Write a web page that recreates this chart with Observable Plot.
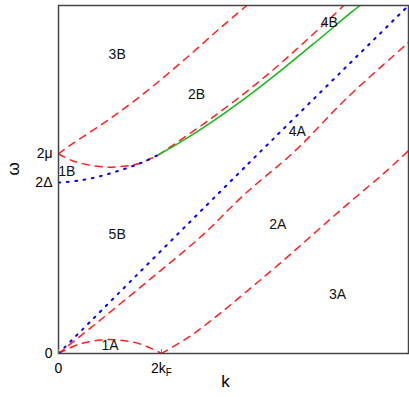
<!DOCTYPE html>
<html>
<head>
<meta charset="utf-8">
<script src="https://cdn.jsdelivr.net/npm/d3@7"></script>
<script src="https://cdn.jsdelivr.net/npm/@observablehq/plot@0.6"></script>
<style>
  html, body { margin: 0; padding: 0; background: #fff; }
</style>
</head>
<body>
<div id="chart"></div>
<script>
// ---- tick values / labels ----
const kTicks = [0, 1];
const kTickLabels = ["0", "2kF"];
const wTicks = [0, 1.66, 1.94];
const wTickLabels = ["0", "2\u0394", "2\u03bc"];

// ---- curves (k in units of 2kF, omega in the same plot units) ----
// red dashed arc between 0 and 2kF (bounds region 1A)
const arc1A_k = [0, 0.1, 0.2, 0.3, 0.4, 0.5, 0.6, 0.7, 0.8, 0.9, 1.0];
const arc1A_w = [0, 0.05, 0.09, 0.115, 0.13, 0.136, 0.13, 0.115, 0.09, 0.05, 0];
// red dashed line starting at origin
const redOrigin_k = [0, 0.4, 0.9, 1.4, 1.8, 2.3, 2.8, 3.4];
const redOrigin_w = [0, 0.32, 0.73, 1.15, 1.54, 1.97, 2.48, 3.02];
// red dashed line starting at 2kF
const red2kF_k = [1, 1.28, 1.57, 1.86, 2.18, 2.51, 2.83, 3.16, 3.4];
const red2kF_w = [0, 0.17, 0.39, 0.63, 0.9, 1.19, 1.47, 1.75, 1.97];
// red dashed: lower branch from 2mu, continuing above the green line
const redMuLow_k = [0, 0.14, 0.36, 0.5, 0.65, 0.8, 0.89, 0.97, 1.18, 1.52, 1.86, 2.16, 2.45, 2.74, 2.77];
const redMuLow_w = [1.94, 1.87, 1.82, 1.81, 1.82, 1.85, 1.89, 1.93, 2.07, 2.31, 2.57, 2.82, 3.08, 3.35, 3.38];
// red dashed: upper branch from 2mu
const redMuUp_k = [0, 0.14, 0.5, 0.86, 1.23, 1.57, 1.83];
const redMuUp_w = [1.94, 2.04, 2.28, 2.55, 2.86, 3.16, 3.38];
// blue dotted: straight line from origin
const blueOrigin_k = [0, 1.83, 3.4];
const blueOrigin_w = [0, 1.83, 3.38];
// blue dotted: from 2Delta
const blueDelta_k = [0, 0.2, 0.4, 0.6, 0.8, 0.97];
const blueDelta_w = [1.66, 1.68, 1.72, 1.78, 1.85, 1.93];
// green solid
const green_k = [0.97, 1.18, 1.52, 1.86, 2.18, 2.51, 2.84, 2.93];
const green_w = [1.93, 2.05, 2.27, 2.515, 2.765, 3.035, 3.31, 3.38];

// ---- region labels ----
const regionNames = ["3B", "2B", "4B", "1B", "4A", "5B", "2A", "3A", "1A"];
const regionK = [0.57, 1.34, 2.63, 0.08, 2.32, 0.57, 2.13, 2.71, 0.5];
const regionW = [2.9, 2.52, 3.21, 1.77, 2.16, 1.16, 1.25, 0.57, 0.08];

const curves = [
  {id: "arc1A", kind: "red", k: arc1A_k, w: arc1A_w},
  {id: "redOrigin", kind: "red", k: redOrigin_k, w: redOrigin_w},
  {id: "red2kF", kind: "red", k: red2kF_k, w: red2kF_w},
  {id: "redMuLow", kind: "red", k: redMuLow_k, w: redMuLow_w},
  {id: "redMuUp", kind: "red", k: redMuUp_k, w: redMuUp_w},
  {id: "blueOrigin", kind: "blue", k: blueOrigin_k, w: blueOrigin_w},
  {id: "blueDelta", kind: "blue", k: blueDelta_k, w: blueDelta_w},
  {id: "green", kind: "green", k: green_k, w: green_w}
];
const rows = curves.flatMap(c => c.k.map((k, i) => ({k, w: c.w[i], id: c.id, kind: c.kind})));
const regions = regionNames.map((name, i) => ({name, k: regionK[i], w: regionW[i]}));

const font = "'Liberation Sans', Arial, Helvetica, sans-serif";

const chart = Plot.plot({
  width: 409,
  height: 397,
  marginLeft: 58,
  marginRight: 1,
  marginTop: 5,
  marginBottom: 44,
  style: {fontFamily: font, fontSize: "14px", color: "#000", background: "#fff"},
  x: {domain: [0, 3.4]},
  y: {domain: [0, 3.38]},
  marks: [
    Plot.line(rows.filter(d => d.kind === "red"), {
      x: "k", y: "w", z: "id", stroke: "#ff1f1f", strokeWidth: 1.5,
      strokeDasharray: "7,6", curve: "catmull-rom", clip: true
    }),
    Plot.line(rows.filter(d => d.kind === "blue"), {
      x: "k", y: "w", z: "id", stroke: "#0000ff", strokeWidth: 2,
      strokeDasharray: "1.8,6.6", curve: "catmull-rom", clip: true
    }),
    Plot.line(rows.filter(d => d.kind === "green"), {
      x: "k", y: "w", z: "id", stroke: "#12b812", strokeWidth: 1.5,
      curve: "catmull-rom", clip: true
    }),
    Plot.text(regions, {x: "k", y: "w", text: "name", fontSize: 14, fill: "#111"}),
    Plot.frame({stroke: "#444", strokeWidth: 1.5}),
    Plot.axisX(kTicks, {
      tickSize: -4, text: null, stroke: "#777", label: null
    }),
    Plot.axisX(kTicks, {
      tickSize: 0, tickPadding: 10, label: null,
      tickFormat: d => kTickLabels[kTicks.indexOf(d)]
    }),
    Plot.axisY(wTicks, {
      tickSize: 0, tickPadding: 6, label: null,
      tickFormat: d => wTickLabels[wTicks.indexOf(d)]
    }),
    Plot.text(["k"], {frameAnchor: "bottom", dy: 33, dx: -8, fontSize: 17}),
    Plot.text(["\u03c9"], {frameAnchor: "left", dx: -45, dy: -4, rotate: -90, fontSize: 17})
  ]
});

// subscript F in the 2kF tick label
chart.querySelectorAll("text, tspan").forEach(t => {
  if (t.childNodes.length === 1 && t.textContent === "2kF") {
    t.textContent = "2k";
    const sub = document.createElementNS("http://www.w3.org/2000/svg", "tspan");
    sub.setAttribute("font-size", "10");
    sub.setAttribute("dy", "3");
    sub.textContent = "F";
    t.appendChild(sub);
  }
});

document.getElementById("chart").appendChild(chart);
</script>
</body>
</html>
